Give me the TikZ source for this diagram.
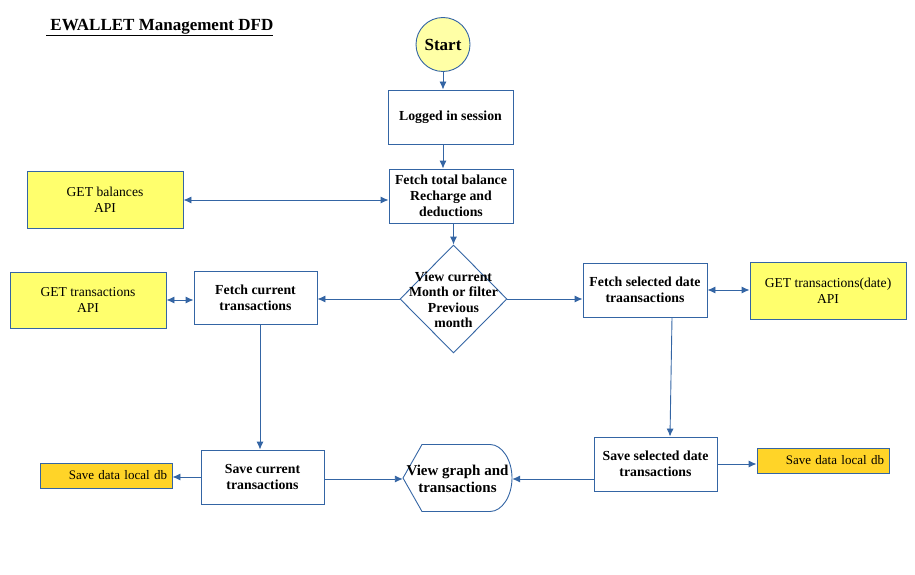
\documentclass[tikz,border=0pt]{standalone}
\usepackage{fontspec}
\setmainfont{Liberation Serif}
\usetikzlibrary{shapes.geometric,arrows.meta}
\definecolor{ln}{HTML}{3465A4}
\definecolor{yel}{HTML}{FFFF6D}
\definecolor{org}{HTML}{FFD428}
\definecolor{stt}{HTML}{FFFFA6}
\begin{document}
\begin{tikzpicture}[x=1pt,y=-1pt,
 proc/.style={draw=ln, line width=0.9pt, fill=white, inner sep=0pt, align=center, font=\bfseries\fontsize{13.8}{15.8}\selectfont},
 api/.style={draw=ln, line width=0.9pt, fill=yel, inner sep=0pt, align=center, font=\fontsize{13.6}{16}\selectfont},
 db/.style={draw=ln, line width=0.9pt, fill=org, inner ysep=0pt, inner xsep=5pt, text width=122pt, minimum height=25pt, align=right, font=\fontsize{13}{15}\selectfont},
 arr/.style={draw=ln, line width=0.9pt, -{Latex[length=8pt,width=7pt]}},
 darr/.style={draw=ln, line width=0.9pt, {Latex[length=8pt,width=7pt]}-{Latex[length=8pt,width=7pt]}},
]
\useasboundingbox (0,0) rectangle (915,575);

\node[anchor=base west, inner sep=0, font=\bfseries\fontsize{17}{20}\selectfont] (title) at (46,30.5) {\underline{\ EWALLET Management DFD}};

\node[circle, draw=ln, line width=0.9pt, fill=stt, minimum size=54pt, inner sep=0pt, font=\bfseries\fontsize{17}{20}\selectfont] (start) at (443,44.5) {Start};

\node[proc, minimum width=125pt, minimum height=54pt] (login) at (450.5,117) {Logged in session};
\node[proc, minimum width=124pt, minimum height=54pt] (fetch) at (451,196) {Fetch total balance\\Recharge and\\deductions};
\node[api, minimum width=156pt, minimum height=57pt] (bal) at (105,200) {GET balances\\API};

\node[diamond, draw=ln, line width=0.9pt, fill=white, minimum width=107pt, minimum height=108pt, inner sep=0pt] (diam) at (453.5,299) {};
\node[align=center, inner sep=0pt, font=\bfseries\fontsize{13.8}{15.5}\selectfont] (diamtxt) at (453.5,300) {View current\\Month or filter\\Previous\\month};

\node[proc, minimum width=123pt, minimum height=53pt] (fcur) at (255.5,297.5) {Fetch current\\transactions};
\node[api, minimum width=156pt, minimum height=56pt] (gtx) at (88,300) {GET transactions\\API};

\node[proc, minimum width=124pt, minimum height=54pt] (fsel) at (645,290) {Fetch selected date\\traansactions};
\node[api, minimum width=156pt, minimum height=57pt] (gdate) at (828,290.5) {GET transactions(date)\\API};

\node[proc, minimum width=123pt, minimum height=54pt] (scur) at (262.5,477) {Save current\\transactions};
\node[db] (db1) at (106,475.5) {Save data local db};

\node[proc, minimum width=123pt, minimum height=54pt] (ssel) at (655.5,464) {Save selected date\\transactions};
\node[db] (db2) at (823,460.5) {Save data local db};

% view graph display shape
\draw[draw=ln, line width=0.9pt] (403,478) -- (422,444.5) -- (490,444.5)
  .. controls (502.1,444.5) and (512,460) .. (512,478)
  .. controls (512,496) and (502.1,511.5) .. (490,511.5) -- (422,511.5) -- cycle;
\node[inner sep=0pt, minimum width=109pt, minimum height=67pt, align=center, font=\bfseries\fontsize{15}{17}\selectfont] (vg) at (457.5,479) {View graph and\\transactions};

\coordinate (cx) at (260,0);

% connectors
\draw[arr] (start.south) -- (start.south |- login.north);
\draw[arr] (login.south -| start.south) -- (fetch.north -| start.south);
\draw[darr] (bal.east) -- (fetch.west |- bal.east);
\draw[arr] (diam.north |- fetch.south) -- (diam.north);
\draw[arr] (diam.west) -- (fcur.east |- diam.west);
\draw[darr] (gtx.east) -- (fcur.west |- gtx.east);
\draw[arr] (diam.east) -- (fsel.west |- diam.east);
\draw[darr] (fsel.east) -- (gdate.west |- fsel.east);
\draw[arr] (fcur.south -| cx) -- (scur.north -| cx);
\draw[arr] (scur.west) -- (db1.east |- scur.west);
\draw[arr] (scur.east |- vg.west) -- (vg.west);
\draw[arr] ([xshift=27pt]fsel.south) -- ([xshift=14.5pt]ssel.north);
\draw[arr] (ssel.west |- vg.east) -- (vg.east);
\draw[arr] (ssel.east) -- (db2.west |- ssel.east);
\end{tikzpicture}
\end{document}
